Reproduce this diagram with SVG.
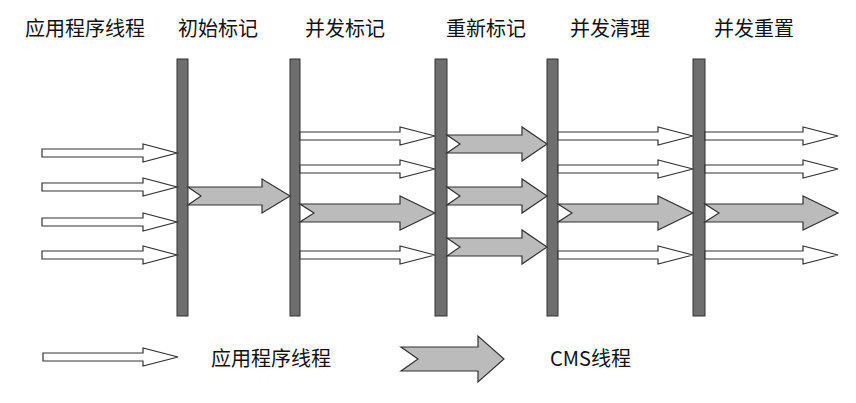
<svg xmlns="http://www.w3.org/2000/svg" width="856" height="403" viewBox="0 0 856 403">
<style>
text{font-family:"Noto Sans CJK SC","Liberation Sans",sans-serif;font-size:20px;fill:#111}
.bar{fill:#6e6e6e;stroke:#333;stroke-width:1}
.w{fill:#fff;stroke:#333;stroke-width:1.2}
.g{fill:#bbb;stroke:#333;stroke-width:1.2}
</style>
<rect width="856" height="403" fill="#fff"/>
<g id="titles">
<text x="25" y="36">应用程序线程</text>
<text x="178" y="36">初始标记</text>
<text x="305" y="36">并发标记</text>
<text x="446" y="36">重新标记</text>
<text x="570" y="36">并发清理</text>
<text x="714" y="36">并发重置</text>
</g>
<g id="bars">
<rect class="bar" x="177" y="59" width="11" height="257"/>
<rect class="bar" x="290" y="59" width="10" height="257"/>
<rect class="bar" x="435" y="59" width="12" height="257"/>
<rect class="bar" x="547" y="59" width="11" height="257"/>
<rect class="bar" x="693" y="59" width="12" height="257"/>
</g>
<g id="connectors">
<polygon class="w" points="42,149 143,149 143,144 177,153 143,162 143,157 42,157"/>
<polygon class="w" points="42,183 143,183 143,178 177,187 143,196 143,191 42,191"/>
<polygon class="w" points="42,218 143,218 143,213 177,222 143,231 143,226 42,226"/>
<polygon class="w" points="42,251 143,251 143,246 177,255 143,264 143,259 42,259"/>
<polygon class="g" points="188,187 262,187 262,179 290,196 262,213 262,205 188,205 201,196"/>
<polygon class="w" points="300,132 400,132 400,127 435,136 400,145 400,140 300,140"/>
<polygon class="w" points="300,165 400,165 400,160 435,169 400,178 400,173 300,173"/>
<polygon class="g" points="300,204 400,204 400,196 435,213 400,230 400,222 300,222 314,213"/>
<polygon class="w" points="300,251 400,251 400,246 435,255 400,264 400,259 300,259"/>
<polygon class="g" points="447,135 522,135 522,127 547,144 522,161 522,153 447,153 460,144"/>
<polygon class="g" points="447,187 522,187 522,179 547,196 522,213 522,205 447,205 460,196"/>
<polygon class="g" points="447,238 522,238 522,230 547,247 522,264 522,256 447,256 460,247"/>
<polygon class="w" points="558,132 658,132 658,127 693,136 658,145 658,140 558,140"/>
<polygon class="w" points="558,165 658,165 658,160 693,169 658,178 658,173 558,173"/>
<polygon class="g" points="558,204 658,204 658,196 693,213 658,230 658,222 558,222 572,213"/>
<polygon class="w" points="558,251 658,251 658,246 693,255 658,264 658,259 558,259"/>
<polygon class="w" points="705,132 803,132 803,127 838,136 803,145 803,140 705,140"/>
<polygon class="w" points="705,165 803,165 803,160 838,169 803,178 803,173 705,173"/>
<polygon class="g" points="705,204 803,204 803,196 838,213 803,230 803,222 705,222 719,213"/>
<polygon class="w" points="705,251 803,251 803,246 838,255 803,264 803,259 705,259"/>
</g>
<g id="legend">
<polygon class="w" points="43,353 143,353 143,348 178,357 143,366 143,361 43,361"/>
<text x="211" y="366">应用程序线程</text>
<polygon class="g" points="401,347 478,347 478,336 504,359 478,382 478,371 401,371 418,359"/>
<text x="550" y="366" style="font-family:'Liberation Sans Narrow','Noto Sans CJK SC',sans-serif">CMS线程</text>
</g>
</svg>
